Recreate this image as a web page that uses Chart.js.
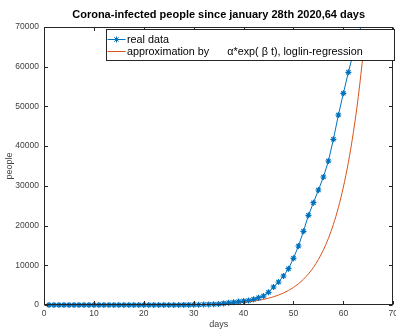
<!DOCTYPE html>
<html>
<head>
<meta charset="utf-8">
<script src="https://cdn.jsdelivr.net/npm/chart.js@4/dist/chart.umd.min.js"></script>
<style>
  html, body { margin: 0; padding: 0; background: #fff; overflow: hidden; }
  #wrap { width: 402px; height: 329px; }
</style>
</head>
<body>
<div id="wrap"><canvas id="chart" width="402" height="329"></canvas></div>
<script>
// days since january 28th
const days = [1, 2, 3, 4, 5, 6, 7, 8, 9, 10, 11, 12, 13, 14, 15, 16, 17, 18, 19, 20,
  21, 22, 23, 24, 25, 26, 27, 28, 29, 30, 31, 32, 33, 34, 35, 36, 37, 38, 39, 40,
  41, 42, 43, 44, 45, 46, 47, 48, 49, 50, 51, 52, 53, 54, 55, 56, 57, 58, 59, 60,
  61, 62, 63, 64];

// infected people
const realData = [4, 4, 4, 5, 8, 10, 12, 12, 12, 12,
  14, 14, 16, 16, 16, 16, 16, 16, 16, 16,
  16, 16, 16, 16, 16, 16, 18, 21, 26, 53,
  66, 117, 150, 188, 240, 400, 550, 700, 850, 1000,
  1150, 1430, 1840, 2270, 3200, 4530, 5790, 7300, 9140, 11760,
  14860, 18560, 22590, 25760, 28960, 32230, 36260, 41720, 47840, 53300,
  58590, 63500, 68000, 72000];

// fitted curve alpha*exp(beta t)
const approx = [0.4, 0.5, 0.6, 0.7, 0.9, 1.1, 1.3, 1.5, 1.8, 2.2,
  2.7, 3.2, 3.9, 4.7, 5.7, 6.9, 8.3, 10, 12, 15,
  18, 22, 26, 32, 38, 46, 56, 67, 81, 100,
  120, 145, 175, 210, 255, 310, 375, 450, 545, 660,
  800, 970, 1170, 1415, 1710, 2070, 2500, 3030, 3660, 4430,
  5360, 6480, 7840, 9480, 11470, 13870, 16780, 20300, 24550, 29700,
  35900, 43450, 52550, 63550];

const xTicks = [0, 10, 20, 30, 40, 50, 60, 70];
const yTicks = [0, 10000, 20000, 30000, 40000, 50000, 60000, 70000];

const chartTitle = 'Corona-infected people since january 28th 2020,64 days';

const blue = '#0072BD';
const orange = '#D95319';
const font = "'Liberation Sans', Arial, sans-serif";

// title, frame with inward ticks, legend box on top of the data
const matlabAxes = {
  id: 'matlabAxes',
  afterDatasetsDraw(chart) {
    const ctx = chart.ctx;
    const a = chart.chartArea;
    const sx = chart.scales.x, sy = chart.scales.y;
    const L = Math.round(a.left) + 0.5, R = Math.round(a.right) - 0.5;
    const T = Math.round(a.top) + 0.5, B = Math.round(a.bottom) - 0.5;
    ctx.save();
    ctx.lineWidth = 1;
    ctx.strokeStyle = '#262626';
    ctx.beginPath();
    xTicks.forEach(v => {
      const px = Math.round(sx.getPixelForValue(v)) + 0.5;
      ctx.moveTo(px, B); ctx.lineTo(px, B - 3.5);
      ctx.moveTo(px, T); ctx.lineTo(px, T + 3.5);
    });
    yTicks.forEach(v => {
      const py = Math.round(sy.getPixelForValue(v)) + 0.5;
      ctx.moveTo(L, py); ctx.lineTo(L + 3.5, py);
      ctx.moveTo(R, py); ctx.lineTo(R - 3.5, py);
    });
    ctx.stroke();
    ctx.strokeRect(L, T, R - L, B - T);

    // title centred over the plot box
    ctx.fillStyle = '#000';
    ctx.font = 'bold 11px ' + font;
    ctx.textAlign = 'center';
    ctx.textBaseline = 'middle';
    ctx.fillText(chartTitle, (a.left + a.right) / 2, 15);

    // legend
    const lx = 106.5, ly = 29.5, lw = 288, lh = 31;
    ctx.fillStyle = '#fff';
    ctx.fillRect(lx, ly, lw, lh);
    ctx.strokeStyle = '#262626';
    ctx.strokeRect(lx, ly, lw, lh);
    ctx.font = '10.8px ' + font;
    ctx.textAlign = 'left';
    chart.data.datasets.forEach((ds, i) => {
      const y = ly + 10 + i * 12;
      ctx.strokeStyle = ds.borderColor;
      ctx.lineWidth = 1;
      ctx.beginPath();
      ctx.moveTo(lx + 1, y); ctx.lineTo(lx + 19, y);
      ctx.stroke();
      if (ds.pointStyle === 'star') {
        ctx.beginPath();
        const cx = lx + 10, r = 3;
        for (let k = 0; k < 4; k++) {
          const ang = k * Math.PI / 4;
          ctx.moveTo(cx - r * Math.cos(ang), y - r * Math.sin(ang));
          ctx.lineTo(cx + r * Math.cos(ang), y + r * Math.sin(ang));
        }
        ctx.stroke();
      }
      ctx.fillStyle = '#000';
      ctx.fillText(ds.label, lx + 20.5, y + 0.5);
    });
    ctx.restore();
  }
};

new Chart(document.getElementById('chart'), {
  type: 'line',
  data: {
    datasets: [
      {
        label: 'real data',
        data: days.map((d, i) => ({ x: d, y: realData[i] })),
        borderColor: blue,
        backgroundColor: blue,
        borderWidth: 1,
        pointStyle: 'star',
        pointRadius: 3,
        pointBorderWidth: 1.2,
        pointBorderColor: blue,
        tension: 0,
        clip: { left: 5, right: 0, top: 0, bottom: 5 }
      },
      {
        label: 'approximation by      \u03b1*exp( \u03b2 t), loglin-regression',
        data: days.map((d, i) => ({ x: d, y: approx[i] })),
        borderColor: orange,
        backgroundColor: orange,
        borderWidth: 1,
        pointRadius: 0,
        cubicInterpolationMode: 'monotone',
        clip: { left: 5, right: 0, top: 0, bottom: 5 }
      }
    ]
  },
  options: {
    responsive: false,
    animation: false,
    devicePixelRatio: 1,
    layout: { padding: { top: 27, left: 0, right: 0, bottom: 0 } },
    plugins: {
      legend: { display: false },
      tooltip: { enabled: false },
      title: { display: false }
    },
    scales: {
      x: {
        type: 'linear',
        min: 0, max: 70,
        afterBuildTicks: s => { s.ticks = xTicks.map(v => ({ value: v })); },
        afterFit: s => { s.height = 24; },
        grid: { display: false, drawTicks: false },
        border: { display: false },
        ticks: { color: '#404040', font: { family: font, size: 8.5 }, padding: 4, maxRotation: 0 },
        title: { display: true, text: 'days', color: '#404040', font: { family: font, size: 9 }, padding: { top: 0, bottom: -1 } }
      },
      y: {
        min: 0, max: 70000,
        afterBuildTicks: s => { s.ticks = yTicks.map(v => ({ value: v })); },
        afterFit: s => { s.width = 44; },
        grid: { display: false, drawTicks: false },
        border: { display: false },
        ticks: { color: '#404040', font: { family: font, size: 8.5 }, padding: 5, callback: v => v },
        title: { display: true, text: 'people', color: '#404040', font: { family: font, size: 9 }, padding: { top: 4, bottom: 0 } }
      }
    }
  },
  plugins: [matlabAxes]
});
</script>
</body>
</html>
